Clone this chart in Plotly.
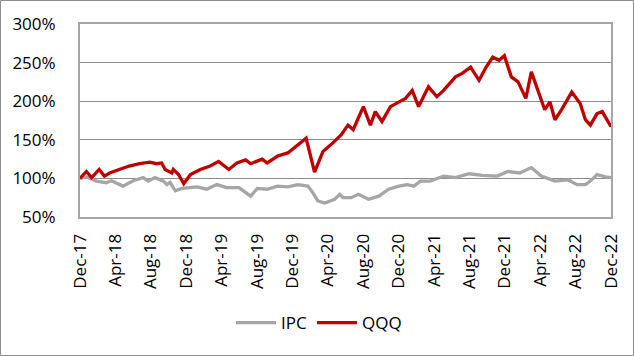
import plotly.graph_objects as go

# ---- data ----
qqq_dates = [
    "2017-12-29", "2018-01-20", "2018-02-07", "2018-03-05", "2018-03-23", "2018-04-10",
    "2018-05-13", "2018-06-16", "2018-07-22", "2018-08-26", "2018-09-19", "2018-10-06",
    "2018-10-18", "2018-11-10", "2018-11-15", "2018-12-03", "2018-12-21", "2019-01-13",
    "2019-02-16", "2019-03-22", "2019-04-20", "2019-05-25", "2019-06-22", "2019-07-22",
    "2019-08-08", "2019-08-31", "2019-09-17", "2019-10-04", "2019-11-09", "2019-12-14",
    "2020-01-17", "2020-02-15", "2020-03-15", "2020-04-13", "2020-05-17", "2020-06-15",
    "2020-07-08", "2020-07-26", "2020-08-30", "2020-09-23", "2020-10-10", "2020-11-02",
    "2020-12-01", "2020-12-30", "2021-01-22", "2021-02-14", "2021-03-08", "2021-04-11",
    "2021-05-10", "2021-06-02", "2021-07-13", "2021-08-05", "2021-09-03", "2021-10-02",
    "2021-10-26", "2021-11-18", "2021-12-10", "2021-12-28", "2022-01-21", "2022-02-13",
    "2022-03-12", "2022-03-31", "2022-04-24", "2022-05-16", "2022-06-03", "2022-06-20",
    "2022-07-13", "2022-08-17", "2022-09-15", "2022-10-03", "2022-10-20", "2022-11-12",
    "2022-11-30", "2022-12-17", "2022-12-30",
]
qqq_values = [
    100, 109, 101, 111.6, 103, 107,
    111.6, 116, 119, 121, 119, 120,
    111.6, 107, 111.6, 105, 93, 105,
    111.6, 116, 122, 111.6, 120, 124,
    119, 122, 125, 120, 129, 133,
    144, 152, 108, 135, 146, 156.6,
    169, 163, 193, 169, 186.5, 173.7,
    193, 199, 203.7, 214, 193, 218.6,
    205.8, 214, 231.5, 236, 244, 227,
    244, 257, 253, 259, 231.5, 225,
    203.7, 238, 214, 189, 199, 176,
    189, 212, 197, 176, 169, 184,
    186.5, 176, 167,
]

ipc_dates = [
    "2017-12-29", "2018-01-20", "2018-02-24", "2018-03-29", "2018-04-16", "2018-05-26",
    "2018-06-30", "2018-08-03", "2018-08-21", "2018-09-13", "2018-10-12", "2018-10-24",
    "2018-11-04", "2018-11-22", "2018-12-15", "2019-01-01", "2019-02-05", "2019-03-10",
    "2019-04-14", "2019-05-18", "2019-06-29", "2019-08-08", "2019-08-31", "2019-10-04",
    "2019-11-09", "2019-12-14", "2020-01-17", "2020-02-21", "2020-03-09", "2020-03-26",
    "2020-04-19", "2020-05-23", "2020-06-10", "2020-06-21", "2020-07-19", "2020-08-13",
    "2020-09-17", "2020-10-22", "2020-11-25", "2020-12-30", "2021-01-28", "2021-02-20",
    "2021-03-14", "2021-04-17", "2021-06-02", "2021-07-13", "2021-08-29", "2021-10-13",
    "2021-12-04", "2022-01-09", "2022-02-19", "2022-03-31", "2022-05-04", "2022-06-20",
    "2022-08-06", "2022-09-04", "2022-10-03", "2022-10-20", "2022-11-12", "2022-12-11",
    "2022-12-30",
]
ipc_values = [
    100, 102, 96.5, 94.4, 97, 90,
    97, 101, 96.5, 101, 96.5, 92,
    95, 84, 87, 88, 89, 86,
    92, 88, 88, 77, 87, 86,
    90, 89, 92, 90, 81.6, 71,
    68, 73, 79.4, 75, 75, 79.4,
    73, 77, 86, 90, 92, 90,
    96.5, 96.5, 103, 101, 106, 104,
    103, 109, 107, 114, 103, 96.5,
    98, 92, 92, 96.5, 105, 102,
    101,
]

tick_dates = [
    "2017-12-29", "2018-04-30", "2018-08-30", "2018-12-30", "2019-04-30", "2019-08-30",
    "2019-12-30", "2020-04-30", "2020-08-30", "2020-12-30", "2021-04-30", "2021-08-30",
    "2021-12-30", "2022-04-30", "2022-08-30", "2022-12-30",
]
tick_labels = [
    "Dec-17", "Apr-18", "Aug-18", "Dec-18", "Apr-19", "Aug-19", "Dec-19", "Apr-20",
    "Aug-20", "Dec-20", "Apr-21", "Aug-21", "Dec-21", "Apr-22", "Aug-22", "Dec-22",
]
y_ticks = [50, 100, 150, 200, 250, 300]
y_labels = ["50%", "100%", "150%", "200%", "250%", "300%"]

# ---- figure ----
W, H = 634, 356
ml, mr, mt, mb = 80, 23, 24, 139
pw, ph = W - ml - mr, H - mt - mb

font_family = "Open Sans, Noto Sans, sans-serif"

fig = go.Figure()
fig.add_trace(go.Scatter(x=ipc_dates, y=ipc_values, mode="lines", name="IPC",
                         line=dict(color="#A6A6A6", width=3.3)))
fig.add_trace(go.Scatter(x=qqq_dates, y=qqq_values, mode="lines", name="QQQ",
                         line=dict(color="#C00000", width=3.3)))

fig.update_layout(
    width=W, height=H,
    margin=dict(l=ml, r=mr, t=mt, b=mb, pad=0, autoexpand=False),
    paper_bgcolor="white", plot_bgcolor="white",
    font=dict(family=font_family, size=17, color="#000000"),
    showlegend=True,
    legend=dict(orientation="h", x=(319 - ml) / pw, xanchor="center", y=-(323 - 217) / ph,
                yanchor="middle", font=dict(size=17), itemwidth=40,
                tracegroupgap=0, bgcolor="rgba(0,0,0,0)"),
    xaxis=dict(
        type="date", range=["2017-12-29", "2022-12-30"], automargin=False,
        tickmode="array", tickvals=tick_dates, ticktext=tick_labels,
        tickangle=-90, showgrid=False, zeroline=False,
        showline=True, linecolor="#A6A6A6", linewidth=2, mirror=True,
        ticks="", ticklabelstandoff=8,
    ),
    yaxis=dict(
        range=[50, 300], tickmode="array", tickvals=y_ticks, ticktext=y_labels,
        automargin=False,
        showgrid=True, gridcolor="#8C8C8C", gridwidth=1, zeroline=False,
        showline=True, linecolor="#A6A6A6", linewidth=2, mirror=True,
        ticks="", ticklabelstandoff=19,
    ),
    shapes=[dict(type="rect", xref="paper", yref="paper",
                 x0=-(ml - 0.5) / pw, x1=1 + (mr - 0.5) / pw,
                 y0=-(mb - 0.5) / ph, y1=1 + (mt - 0.5) / ph,
                 line=dict(color="#8C8C8C", width=1), layer="below")],
)

fig.write_html("out.html", config={"displayModeBar": False},
               post_script="document.body.style.margin='0px';document.body.style.overflow='hidden';")
